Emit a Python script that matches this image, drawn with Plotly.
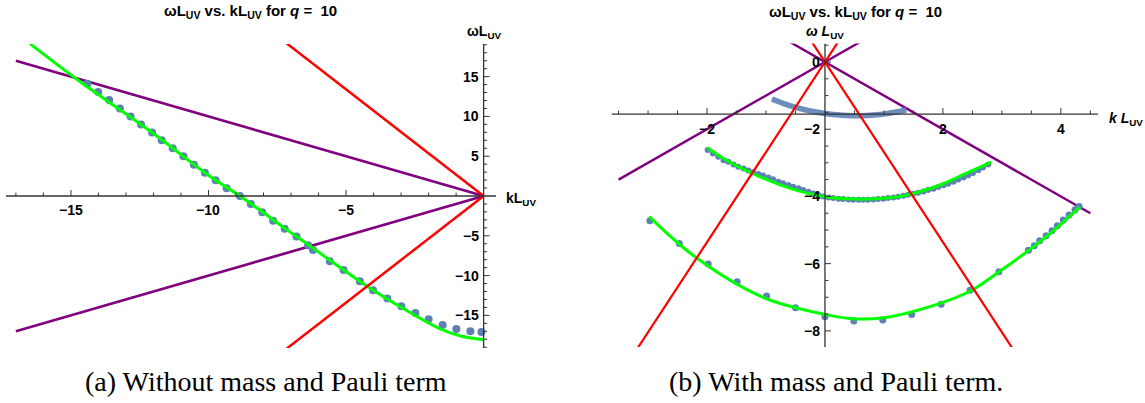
import plotly.graph_objects as go

W, H = 1145, 403

# ---------------- panel (a): without mass and Pauli term ----------------
a_dot_k = [-14.40, -14.01, -13.61, -13.22, -12.83, -12.45, -12.05, -11.70, -11.30,
           -10.91, -10.53, -10.13, -9.74, -9.34, -8.86, -8.46, -8.05, -7.65, -7.23,
           -6.80, -6.38, -6.20, -5.59, -5.09, -4.50, -4.02, -3.50, -2.99, -2.48,
           -2.00, -1.49, -0.99, -0.48, -0.08]
a_dot_w = [14.10, 13.06, 12.05, 11.00, 9.99, 8.98, 7.97, 7.02, 6.01,
           5.00, 3.94, 2.93, 1.97, 0.96, 0.00, -1.00, -2.05, -3.10, -4.10,
           -5.10, -6.20, -6.80, -8.20, -9.30, -10.70, -11.84, -12.88, -13.85, -14.70,
           -15.49, -16.21, -16.71, -17.00, -17.09]

a_fit_k = [-16.49, -14.80, -12.05, -10.00, -8.86, -7.00, -6.30, -4.25, -2.81, -1.60, -0.80, 0.00]
a_fit_w = [19.14, 14.70, 7.97, 2.60, 0.00, -4.60, -6.30, -11.30, -14.36, -16.67, -17.63, -18.05]

a_line_k = [-17.0, 0.0]

# ---------------- panel (b): with mass and Pauli term ----------------
b_line_k = [-3.5, 4.5]

b_band_k = [-0.90, -0.71, -0.48, -0.25, 0.00, 0.25, 0.48, 0.71, 0.93, 1.16, 1.38]
b_band_w = [-1.10, -1.23, -1.36, -1.46, -1.53, -1.58, -1.60, -1.59, -1.56, -1.50, -1.43]

b_mid_dot_k = [-1.99, -1.90, -1.81, -1.72, -1.64, -1.55, -1.47, -1.38, -1.30, -1.22,
               -1.13, -1.05, -0.96, -0.88, -0.79, -0.71, -0.62, -0.54, -0.45, -0.37,
               -0.28, -0.20, -0.11, -0.03, 0.06, 0.14, 0.23, 0.31, 0.40, 0.48,
               0.57, 0.65, 0.73, 0.82, 0.90, 0.99, 1.07, 1.16, 1.24, 1.33,
               1.41, 1.50, 1.58, 1.67, 1.75, 1.84, 1.92, 2.01, 2.09, 2.18,
               2.26, 2.35, 2.43, 2.51, 2.60, 2.68, 2.77]
b_mid_dot_w = [-2.62, -2.72, -2.82, -2.92, -2.97, -3.05, -3.12, -3.17, -3.23, -3.28,
               -3.33, -3.38, -3.44, -3.49, -3.56, -3.61, -3.66, -3.71, -3.76, -3.81,
               -3.86, -3.91, -3.96, -4.00, -4.03, -4.05, -4.07, -4.08, -4.09, -4.10,
               -4.10, -4.10, -4.10, -4.09, -4.08, -4.07, -4.05, -4.03, -4.01, -3.98,
               -3.95, -3.92, -3.89, -3.85, -3.81, -3.77, -3.72, -3.67, -3.62, -3.56,
               -3.50, -3.44, -3.37, -3.30, -3.22, -3.14, -3.05]

b_mid_fit_k = [-1.99, -1.72, -1.24, -0.59, 0.00, 0.54, 1.10, 1.44, 1.95, 2.40, 2.82]
b_mid_fit_w = [-2.55, -2.87, -3.31, -3.76, -4.01, -4.08, -4.04, -3.94, -3.66, -3.31, -2.98]

b_low_dot_k = [-2.97, -2.47, -1.98, -1.49, -0.99, -0.50, 0.00, 0.49, 0.98, 1.47, 1.97,
               2.46, 2.95, 3.45, 3.55, 3.64, 3.75, 3.85, 3.94, 4.04, 4.14, 4.24, 4.31]
b_low_dot_w = [-4.72, -5.40, -6.01, -6.54, -6.96, -7.31, -7.58, -7.71, -7.68, -7.51, -7.21,
               -6.79, -6.24, -5.60, -5.47, -5.32, -5.17, -5.02, -4.87, -4.70, -4.55, -4.40, -4.30]

b_low_fit_k = [-2.98, -2.17, -1.05, 0.00, 0.42, 0.99, 1.95, 2.49, 2.97, 3.42, 3.87, 4.32]
b_low_fit_w = [-4.60, -5.84, -7.00, -7.51, -7.63, -7.61, -7.18, -6.79, -6.22, -5.65, -5.03, -4.32]

# light-cone slopes
purple_slope = 1.0
red_slope = 2.68

# ---------------- axes / ticks ----------------
a_xrange = [-17.36, 0.45]
a_yrange = [-19.1, 19.1]
a_xmajor = [-15, -10, -5]
a_xmajor_labels = ["\u221215", "\u221210", "\u22125"]
a_xminor = [-17, -16, -14, -13, -12, -11, -9, -8, -7, -6, -4, -3, -2, -1]
a_ymajor = [15, 10, 5, -5, -10, -15]
a_ymajor_labels = ["15", "10", "5", "\u22125", "\u221210", "\u221215"]
a_yminor = [v for v in range(-19, 20) if v % 5 != 0]

b_xrange = [-3.62, 4.63]
b_yrange = [-8.48, 0.55]
b_axis_w = -1.55
b_xmajor = [-2, 2, 4]
b_xmajor_labels = ["\u22122", "2", "4"]
b_xminor = [-3.5, -3.0, -2.5, -1.5, -1.0, -0.5, 0.5, 1.0, 1.5, 2.5, 3.0, 3.5, 4.5]
b_ymajor = [0, -2, -4, -6, -8]
b_ymajor_labels = ["0", "\u22122", "\u22124", "\u22126", "\u22128"]
b_yminor = [0.5, -0.5, -1.0, -1.5, -2.5, -3.0, -3.5, -4.5, -5.0, -5.5, -6.5, -7.0, -7.5, -8.5]

captions = ["(a) Without mass and Pauli term", "(b) With mass and Pauli term."]

DOT = "#5E81B5"
GREEN = "#00FF00"
RED = "#FF0000"
PURPLE = "#800080"
AXIS = "#333333"
SANS = "Liberation Sans, Arial, sans-serif"
SERIF = "Liberation Serif, Times New Roman, serif"
TICK_SIZE = 14
LABEL_SIZE = 14

fig = go.Figure()


def add_panel(xa, ya, line_k, pieces, lw):
    for slope in (purple_slope, -purple_slope):
        fig.add_trace(go.Scatter(x=line_k, y=[slope * k for k in line_k], mode="lines",
                                 line=dict(color=PURPLE, width=lw), xaxis=xa, yaxis=ya,
                                 hoverinfo="skip"))
    for kind, xs, ys, size in pieces:
        if kind == "dots":
            fig.add_trace(go.Scatter(x=xs, y=ys, mode="markers",
                                     marker=dict(color=DOT, size=size, line=dict(width=0)),
                                     xaxis=xa, yaxis=ya, hoverinfo="skip"))
        elif kind == "band":
            fig.add_trace(go.Scatter(x=xs, y=ys, mode="lines", line_shape="spline",
                                     line=dict(color=DOT, width=size), opacity=0.9,
                                     xaxis=xa, yaxis=ya, hoverinfo="skip"))
        else:
            fig.add_trace(go.Scatter(x=xs, y=ys, mode="lines", line_shape="spline",
                                     line=dict(color=GREEN, width=size),
                                     xaxis=xa, yaxis=ya, hoverinfo="skip"))
    for slope in (red_slope, -red_slope):
        fig.add_trace(go.Scatter(x=line_k, y=[slope * k for k in line_k], mode="lines",
                                 line=dict(color=RED, width=lw - 0.2), xaxis=xa, yaxis=ya,
                                 hoverinfo="skip"))


add_panel("x", "y", a_line_k, [
    ("dots", a_dot_k, a_dot_w, 8),
    ("fit", a_fit_k, a_fit_w, 3),
], 2.7)
add_panel("x2", "y2", b_line_k, [
    ("band", b_band_k, b_band_w, 5.5),
    ("dots", b_mid_dot_k, b_mid_dot_w, 6),
    ("fit", b_mid_fit_k, b_mid_fit_w, 3),
    ("dots", b_low_dot_k, b_low_dot_w, 7),
    ("fit", b_low_fit_k, b_low_fit_w, 3),
], 2.4)

shapes = []
annotations = []


def axes_for(xref, yref, xrange, yrange, x_at, y_at, xmaj, xmaj_lab, xmin, ymaj, ymaj_lab, ymin,
             xlab_shift, ylab_shift):
    shapes.append(dict(type="line", xref=xref, yref=yref, x0=xrange[0], x1=xrange[1],
                       y0=y_at, y1=y_at, line=dict(color=AXIS, width=1.3)))
    shapes.append(dict(type="line", xref=xref, yref=yref, x0=x_at, x1=x_at,
                       y0=yrange[0], y1=yrange[1], line=dict(color=AXIS, width=1.3)))
    for vals, ln in ((xmaj, 6), (xmin, 3.5)):
        for v in vals:
            shapes.append(dict(type="line", xref=xref, yref=yref, ysizemode="pixel",
                               yanchor=y_at, x0=v, x1=v, y0=0, y1=ln,
                               line=dict(color=AXIS, width=1)))
    for vals, ln in ((ymaj, 6), (ymin, 3.5)):
        for v in vals:
            shapes.append(dict(type="line", xref=xref, yref=yref, xsizemode="pixel",
                               xanchor=x_at, y0=v, y1=v, x0=0, x1=ln,
                               line=dict(color=AXIS, width=1)))
    for v, t in zip(xmaj, xmaj_lab):
        annotations.append(dict(xref=xref, yref=yref, x=v, y=y_at, text="<b>%s</b>" % t,
                                showarrow=False, yshift=xlab_shift, xanchor="center",
                                font=dict(family=SANS, size=TICK_SIZE, color="black")))
    for v, t in zip(ymaj, ymaj_lab):
        annotations.append(dict(xref=xref, yref=yref, x=x_at, y=v, text="<b>%s</b>" % t,
                                showarrow=False, xshift=ylab_shift, xanchor="right",
                                font=dict(family=SANS, size=TICK_SIZE, color="black")))


axes_for("x", "y", a_xrange, a_yrange, 0, 0, a_xmajor, a_xmajor_labels, a_xminor,
         a_ymajor, a_ymajor_labels, a_yminor, -14, -3)
axes_for("x2", "y2", b_xrange, b_yrange, 0, b_axis_w, b_xmajor, b_xmajor_labels, b_xminor,
         b_ymajor, b_ymajor_labels, b_yminor, -15, -3)

title_text = "<b>\u03c9L<sub>UV</sub> vs. kL<sub>UV</sub> for <i>q</i> =  10</b>"
annotations += [
    dict(xref="paper", yref="paper", x=250 / W, y=1 - 11 / H, text=title_text, showarrow=False,
         xanchor="center", yanchor="middle", font=dict(family=SANS, size=15, color="black")),
    dict(xref="paper", yref="paper", x=855 / W, y=1 - 13 / H, text=title_text, showarrow=False,
         xanchor="center", yanchor="middle", font=dict(family=SANS, size=15, color="black")),
    dict(xref="paper", yref="paper", x=484 / W, y=1 - 32 / H,
         text="<b>\u03c9L<sub>UV</sub></b>", showarrow=False, xanchor="center", yanchor="middle",
         font=dict(family=SANS, size=LABEL_SIZE, color="black")),
    dict(xref="paper", yref="paper", x=504 / W, y=1 - 199 / H,
         text="<b>kL<sub>UV</sub></b>", showarrow=False, xanchor="left", yanchor="middle",
         font=dict(family=SANS, size=LABEL_SIZE, color="black")),
    dict(xref="paper", yref="paper", x=825 / W, y=1 - 32 / H,
         text="<b><i>\u03c9 L</i><sub>UV</sub></b>", showarrow=False, xanchor="center",
         yanchor="middle", font=dict(family=SANS, size=LABEL_SIZE, color="black")),
    dict(xref="paper", yref="paper", x=1107 / W, y=1 - 119 / H,
         text="<b><i>k L</i><sub>UV</sub></b>", showarrow=False, xanchor="left",
         yanchor="middle", font=dict(family=SANS, size=LABEL_SIZE, color="black")),
    dict(xref="paper", yref="paper", x=266 / W, y=1 - 381 / H,
         text=captions[0], showarrow=False, xanchor="center",
         yanchor="middle", font=dict(family=SERIF, size=28, color="black")),
    dict(xref="paper", yref="paper", x=836 / W, y=1 - 381 / H,
         text=captions[1], showarrow=False, xanchor="center",
         yanchor="middle", font=dict(family=SERIF, size=28, color="black")),
]

fig.update_layout(
    width=W, height=H, margin=dict(l=0, r=0, t=0, b=0),
    paper_bgcolor="white", plot_bgcolor="white", showlegend=False,
    xaxis=dict(domain=[6 / W, 496 / W], range=a_xrange, visible=False),
    yaxis=dict(domain=[1 - 348 / H, 1 - 44 / H], range=a_yrange, visible=False),
    xaxis2=dict(domain=[611.5 / W, 1098 / W], range=b_xrange, visible=False, anchor="y2"),
    yaxis2=dict(domain=[1 - 347 / H, 1 - 43.5 / H], range=b_yrange, visible=False, anchor="x2"),
    shapes=shapes, annotations=annotations,
)

fig.write_html("out.html")
